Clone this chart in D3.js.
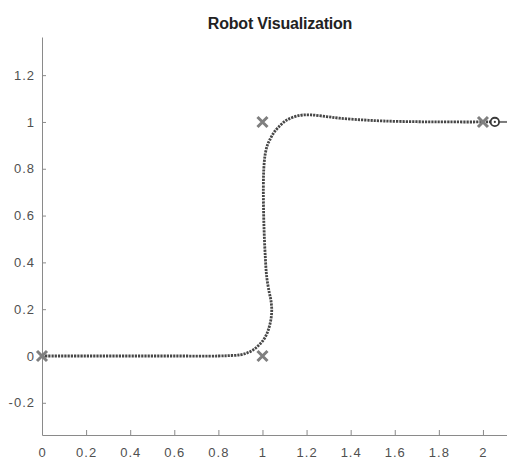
<!DOCTYPE html>
<html>
<head>
<meta charset="utf-8">
<script src="https://cdn.jsdelivr.net/npm/d3@7"></script>
<style>
  html, body { margin: 0; padding: 0; background: #fff; }
  svg { display: block; font-family: "Liberation Sans", Arial, sans-serif; }
</style>
</head>
<body>
<div id="chart"></div>
<script>
// Robot path (x, y in metres)
const pathX = [0, 0.2, 0.4, 0.6, 0.8, 0.86, 0.9, 0.93, 0.958, 0.982, 1.004, 1.02, 1.031, 1.039, 1.042, 1.038, 1.031, 1.019, 1.013, 1.008, 1.005, 1.004, 1.006, 1.012, 1.022, 1.034, 1.05, 1.07, 1.11, 1.17, 1.22, 1.29, 1.35, 1.45, 1.55, 1.7, 1.85, 2.054];
const pathY = [0, 0, 0, 0, 0, 0.002, 0.005, 0.013, 0.026, 0.045, 0.068, 0.095, 0.125, 0.16, 0.197, 0.24, 0.27, 0.34, 0.42, 0.52, 0.62, 0.72, 0.8, 0.86, 0.9, 0.925, 0.952, 0.975, 1.008, 1.028, 1.03, 1.023, 1.016, 1.009, 1.004, 1.001, 1.0, 1.0];

// Waypoints (x markers)
const wayX = [0, 1, 1, 2];
const wayY = [0, 0, 1, 1];

// Robot pose at the end
const robotX = 2.054;
const robotY = 1.0;
const robotTheta = 0;

const xTicks = [0, 0.2, 0.4, 0.6, 0.8, 1, 1.2, 1.4, 1.6, 1.8, 2];
const yTicks = [-0.2, 0, 0.2, 0.4, 0.6, 0.8, 1, 1.2];

const width = 507, height = 460;
const margin = { top: 37, right: -11, bottom: 25, left: 42 };
const axisColor = "#8a8a8a";
const textColor = "#505050";

const svg = d3.select("#chart").append("svg")
  .attr("width", width)
  .attr("height", height);

const x = d3.scaleLinear().domain([0, 2.159]).range([margin.left, width - margin.right]);
const y = d3.scaleLinear().domain([-0.3376, 1.363]).range([height - margin.bottom, margin.top]);

// Title
svg.append("text")
  .attr("x", (margin.left + width - margin.right) / 2)
  .attr("y", 29)
  .attr("text-anchor", "middle")
  .attr("font-size", "16px")
  .attr("font-weight", "bold")
  .attr("letter-spacing", "-0.2px")
  .attr("fill", "#222")
  .text("Robot Visualization");

// Axes (ticks inside, MATLAB style, box off); plain hyphen for negatives
const fmt = d => String(d);
const xAxis = svg.append("g")
  .attr("transform", `translate(0,${height - margin.bottom})`)
  .call(d3.axisBottom(x).tickValues(xTicks).tickSizeInner(-5).tickSizeOuter(0).tickPadding(13).tickFormat(fmt));

const yAxis = svg.append("g")
  .attr("transform", `translate(${margin.left},0)`)
  .call(d3.axisLeft(y).tickValues(yTicks).tickSizeInner(-4).tickSizeOuter(0).tickPadding(7).tickFormat(fmt));

[xAxis, yAxis].forEach(g => {
  g.select(".domain").attr("stroke", axisColor);
  g.selectAll(".tick line").attr("stroke", axisColor);
  g.selectAll(".tick text")
    .attr("fill", textColor)
    .attr("font-size", "13px")
    .attr("letter-spacing", "1px")
    .attr("font-family", "Liberation Sans, Arial, sans-serif");
});

const plot = svg.append("g");

// Trajectory, drawn as a beaded line
const pts = pathX.map((v, i) => [v, pathY[i]]);
const line = d3.line()
  .x(d => x(d[0]))
  .y(d => y(d[1]))
  .curve(d3.curveCatmullRom.alpha(0.5));

plot.append("path")
  .datum(pts)
  .attr("d", line)
  .attr("fill", "none")
  .attr("stroke", "#474747")
  .attr("stroke-width", 2.8)
  .attr("stroke-dasharray", "2.2 1");

// Waypoint crosses
const s = 5;
const way = wayX.map((v, i) => [v, wayY[i]]);
plot.selectAll(".way")
  .data(way)
  .join("path")
  .attr("class", "way")
  .attr("d", d => {
    const cx = x(d[0]), cy = y(d[1]);
    return `M${cx - s},${cy - s}L${cx + s},${cy + s}M${cx - s},${cy + s}L${cx + s},${cy - s}`;
  })
  .attr("stroke", "#7f7f7f")
  .attr("stroke-width", 3)
  .attr("fill", "none");

// Robot: heading line, body circle, centre dot
const rx = x(robotX), ry = y(robotY);
plot.append("line")
  .attr("x1", rx)
  .attr("y1", ry)
  .attr("x2", x(robotX + 0.1 * Math.cos(robotTheta)))
  .attr("y2", y(robotY + 0.1 * Math.sin(robotTheta)))
  .attr("stroke", "#7a7a7a")
  .attr("stroke-width", 2);

plot.append("circle")
  .attr("cx", rx)
  .attr("cy", ry)
  .attr("r", 4.2)
  .attr("fill", "#fff")
  .attr("stroke", "#3a3a3a")
  .attr("stroke-width", 1.8);

plot.append("circle")
  .attr("cx", rx)
  .attr("cy", ry)
  .attr("r", 1.1)
  .attr("fill", "#3a3a3a");
</script>
</body>
</html>
